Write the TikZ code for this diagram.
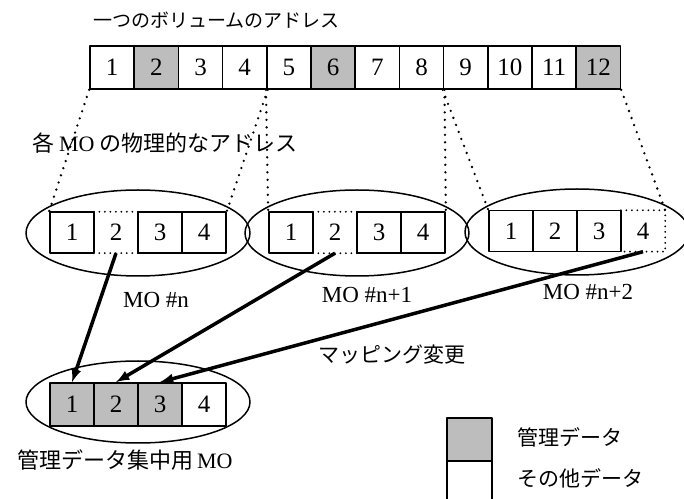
\documentclass[tikz,border=0pt]{standalone}
\usepackage{fontspec}
\setmainfont{Liberation Serif}
\newfontfamily\jfont{Noto Sans CJK JP}
\usepackage{tikz}
\usetikzlibrary{arrows,shapes}

\begin{document}
\begin{tikzpicture}[>=latex,line join=bevel,
  cell/.style={draw,line width=1.7bp,minimum width=44bp,minimum height=41bp,inner sep=0pt,font=\fontsize{25bp}{25bp}\selectfont},
  gapcell/.style={minimum width=44bp,minimum height=41bp,inner sep=0pt,font=\fontsize{25bp}{25bp}\selectfont},
  mo/.style={draw,ellipse,line width=1.5bp,minimum width=224bp,minimum height=86bp},
  projline/.style={line width=2.6bp,line cap=round,dash pattern=on 0bp off 7.5bp},
  gapline/.style={line width=2bp,line cap=round,dash pattern=on 0bp off 5.5bp},
  mapline/.style={->,line width=3.5bp},
  jtext/.style={inner sep=0pt,font=\jfont\fontsize{21bp}{24bp}\selectfont},
  ltext/.style={inner sep=0pt,font=\fontsize{23bp}{24bp}\selectfont}]
%%
\definecolor{fillcolor}{rgb}{0.74,0.74,0.74};
  \path[use as bounding box] (0bp,0bp) rectangle (684bp,499bp);
  \node (title) at (93bp,479bp) [jtext,anchor=west,font=\jfont\fontsize{19bp}{24bp}\selectfont] {一つのボリュームのアドレス};
  % one volume
  \node (t1) at (112.1bp,431.5bp) [cell,minimum width=44.2bp,minimum height=43bp] {1};
  \node (t2) at (156.3bp,431.5bp) [cell,minimum width=44.2bp,minimum height=43bp,fill=fillcolor] {2};
  \node (t3) at (200.5bp,431.5bp) [cell,minimum width=44.2bp,minimum height=43bp] {3};
  \node (t4) at (244.7bp,431.5bp) [cell,minimum width=44.2bp,minimum height=43bp] {4};
  \node (t5) at (288.9bp,431.5bp) [cell,minimum width=44.2bp,minimum height=43bp] {5};
  \node (t6) at (333.1bp,431.5bp) [cell,minimum width=44.2bp,minimum height=43bp,fill=fillcolor] {6};
  \node (t7) at (377.3bp,431.5bp) [cell,minimum width=44.2bp,minimum height=43bp] {7};
  \node (t8) at (421.5bp,431.5bp) [cell,minimum width=44.2bp,minimum height=43bp] {8};
  \node (t9) at (465.7bp,431.5bp) [cell,minimum width=44.2bp,minimum height=43bp] {9};
  \node (t10) at (509.9bp,431.5bp) [cell,minimum width=44.2bp,minimum height=43bp] {10};
  \node (t11) at (554.1bp,431.5bp) [cell,minimum width=44.2bp,minimum height=43bp] {11};
  \node (t12) at (598.3bp,431.5bp) [cell,minimum width=44.2bp,minimum height=43bp,fill=fillcolor] {12};
  \node (mocap) at (32bp,356bp) [jtext,anchor=west,font=\jfont\fontsize{22bp}{24bp}\selectfont] {各 {\fontspec{Liberation Serif}MO} の物理的なアドレス};
  % the three MOs
  \node (mo1) at (138bp,266bp) [mo] {};
  \node (mo2) at (357bp,266bp) [mo] {};
  \node (mo3) at (577bp,267bp) [mo] {};
  \node (m1b1) at (72bp,266.5bp) [cell] {1};
  \node (m1b2) at (116bp,266.5bp) [gapcell] {2};
  \node (m1b3) at (160bp,266.5bp) [cell] {3};
  \node (m1b4) at (204bp,266.5bp) [cell] {4};
  \node (m2b1) at (291bp,266.5bp) [cell] {1};
  \node (m2b2) at (335bp,266.5bp) [gapcell] {2};
  \node (m2b3) at (379bp,266.5bp) [cell] {3};
  \node (m2b4) at (423bp,266.5bp) [cell] {4};
  \node (m3b1) at (511bp,268bp) [cell] {1};
  \node (m3b2) at (555bp,268bp) [cell] {2};
  \node (m3b3) at (599bp,268bp) [cell] {3};
  \node (m3b4) at (643bp,268bp) [gapcell] {4};
  \draw [gapline] (m1b2.north west) -- (m1b2.north east);
  \draw [gapline] (m1b2.south west) -- (m1b2.south east);
  \draw [gapline] (m2b2.north west) -- (m2b2.north east);
  \draw [gapline] (m2b2.south west) -- (m2b2.south east);
  \draw [gapline] (m3b4.north west) -- (m3b4.north east) -- (m3b4.south east) -- (m3b4.south west);
  \node (lbln) at (156bp,199bp) [ltext] {MO \#n};
  \node (lbln1) at (367bp,204bp) [ltext] {MO \#n+1};
  \node (lbln2) at (588bp,207bp) [ltext] {MO \#n+2};
  % MO for management data
  \node (mocol) at (138bp,97bp) [mo,minimum height=82bp] {};
  \node (c1) at (72bp,94.5bp) [cell,minimum height=43bp,fill=fillcolor] {1};
  \node (c2) at (116bp,94.5bp) [cell,minimum height=43bp,fill=fillcolor] {2};
  \node (c3) at (160bp,94.5bp) [cell,minimum height=43bp,fill=fillcolor] {3};
  \node (c4) at (204bp,94.5bp) [cell,minimum height=43bp] {4};
  \node (lblcol) at (125bp,39bp) [jtext,font=\jfont\fontsize{22bp}{24bp}\selectfont] {管理データ集中用\,{\fontspec{Liberation Serif}MO}};
  \node (remap) at (318bp,144bp) [jtext,anchor=west] {マッピング変更};
  % legend
  \node (keygrey) at (469.5bp,59.5bp) [cell,minimum width=45bp,minimum height=43bp,fill=fillcolor] {};
  \node (keywhite) at (469.5bp,15.5bp) [cell,minimum width=45bp,minimum height=45bp] {};
  \node (legmgmt) at (517bp,62bp) [jtext,anchor=west] {管理データ};
  \node (legother) at (517bp,21bp) [jtext,anchor=west] {その他データ};
  \draw [projline] (t1.south west) -- (m1b1.north west);
  \draw [projline] (t4.south east) -- (m1b4.north east);
  \draw [projline] (t5.south west) -- (m2b1.north west);
  \draw [projline] (t8.south east) -- (m2b4.north east);
  \draw [projline] (t9.south west) -- (m3b1.north west);
  \draw [projline] (t12.south east) -- (m3b4.north east);
  \draw [mapline] (m1b2.south) -- (c1.north);
  \draw [mapline] (m2b2.south) -- (c2.north);
  \draw [mapline] (m3b4.south) -- (c3.north);
%
\end{tikzpicture}
\end{document}
